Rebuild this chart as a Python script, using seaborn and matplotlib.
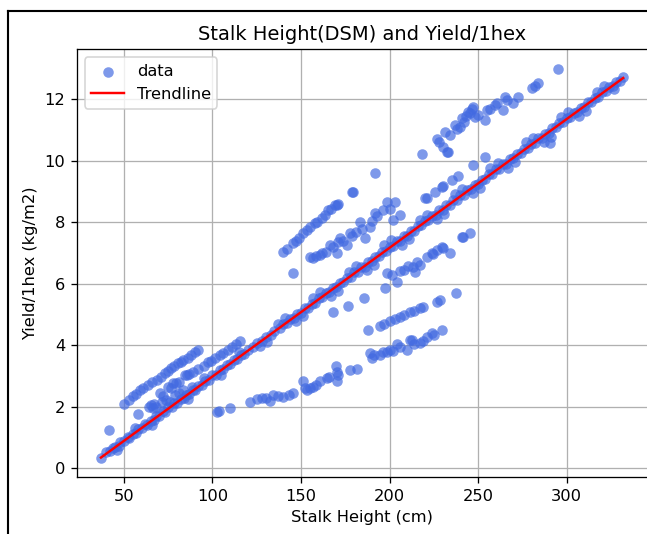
import numpy as np
import pandas as pd
import matplotlib
matplotlib.use("Agg")
import matplotlib.pyplot as plt
from matplotlib.lines import Line2D
import seaborn as sns

# ---------------- data ----------------
# main band along the trendline
main_x = [37, 40, 42, 44, 45, 47, 48, 50, 52, 53, 55, 57, 58, 60, 62, 63, 65, 67, 68, 70,
          72, 73, 75, 77, 78, 80, 82, 84, 85, 87, 89, 90, 92, 94, 96, 98, 100, 102, 104, 106,
          108, 110, 112, 114, 116, 118, 120, 123, 125, 128, 130, 133, 135, 138, 140, 142, 144,
          146, 148, 150, 152, 154, 156, 158, 160, 162, 164, 166, 168, 170, 172, 174, 176, 178,
          180, 182, 184, 186, 188, 190, 192, 194, 196, 198, 200, 202, 204, 206, 208, 210, 212,
          214, 216, 218, 220, 222, 224, 226, 228, 230, 232, 234, 236, 238, 240, 242, 244, 246,
          248, 250, 252, 254, 256, 258, 260, 262, 264, 266, 268, 270, 272, 274, 276, 278, 280,
          282, 284, 286, 288, 290, 292, 294, 296, 298, 300, 302, 304, 306, 308, 310, 312, 314,
          316, 318, 320, 322, 324, 326, 328, 330, 332]
main_y = [0.35, 0.52, 0.55, 0.66, 0.70, 0.74, 0.84, 0.88, 1.02, 0.98, 1.12, 1.16, 1.27, 1.30,
          1.44, 1.40, 1.55, 1.58, 1.70, 1.71, 1.86, 1.82, 1.98, 2.00, 2.11, 2.12, 2.27, 2.30,
          2.40, 2.41, 2.56, 2.55, 2.69, 2.72, 2.85, 2.88, 3.02, 3.05, 3.19, 3.22, 3.35, 3.38,
          3.52, 3.55, 3.69, 3.72, 3.86, 3.93, 4.06, 4.14, 4.27, 4.35, 4.48, 4.55, 4.69, 4.72,
          4.86, 4.89, 5.03, 5.06, 5.20, 5.22, 5.36, 5.39, 5.53, 5.56, 5.70, 5.72, 5.87, 5.89,
          6.04, 6.06, 6.20, 6.23, 6.37, 6.39, 6.54, 6.56, 6.71, 6.73, 6.88, 6.89, 7.05, 7.06,
          7.21, 7.23, 7.38, 7.40, 7.55, 7.56, 7.72, 7.73, 7.88, 7.90, 8.05, 8.07, 8.22, 8.23,
          8.39, 8.40, 8.55, 8.57, 8.72, 8.74, 8.89, 8.90, 9.06, 9.07, 9.22, 9.24, 9.39, 9.40,
          9.56, 9.57, 9.72, 9.74, 9.89, 9.91, 10.06, 10.08, 10.22, 10.25, 10.39, 10.41, 10.56,
          10.58, 10.73, 10.75, 10.89, 10.92, 11.06, 11.09, 11.23, 11.25, 11.40, 11.42, 11.56,
          11.59, 11.73, 11.76, 11.90, 11.92, 12.06, 12.09, 12.23, 12.26, 12.40, 12.43, 12.56,
          12.60, 12.72]

# scatter around the main band (band thickness)
spread_x = [46, 56, 66, 76, 86, 95, 105, 115, 127, 137, 147, 157, 167, 177, 187, 197, 207,
            217, 227, 237, 247, 257, 267, 277, 287, 297, 307, 317, 327, 131, 141, 151, 161,
            171, 181, 191, 201, 211, 221, 231, 241, 251, 261, 271, 281, 291, 301, 311, 321,
            290.7]
spread_y = [0.58, 1.30, 1.42, 2.15, 2.25, 2.93, 3.05, 3.78, 3.97, 4.70, 4.80, 5.55, 5.62,
            6.40, 6.45, 7.25, 7.28, 8.08, 8.10, 8.92, 8.95, 9.76, 9.78, 10.60, 10.62, 11.42,
            11.47, 12.25, 12.33, 4.12, 4.88, 4.95, 5.72, 5.78, 6.57, 6.60, 7.42, 7.45, 8.25,
            8.28, 9.08, 9.12, 9.93, 9.95, 10.76, 10.79, 11.58, 11.63, 12.42, 10.57]

# upper-left band A
bandA_x = [50, 53, 55.3, 57, 59, 61, 63.7, 66, 68.5, 71, 73.2, 74.8, 76.5, 78.5, 80.7, 82,
           83.5, 86, 88, 90.1, 91.8, 41.7]
bandA_y = [2.10, 2.22, 2.34, 2.42, 2.55, 2.62, 2.71, 2.80, 2.88, 2.98, 3.09, 3.16, 3.25, 3.33,
           3.41, 3.45, 3.52, 3.60, 3.70, 3.79, 3.86, 1.23]

# band A' just above the main band
bandA2_x = [58.1, 64, 65.5, 67, 70.3, 72, 75, 76.5, 77.9, 79.5, 81, 84.5, 85.5, 86.5, 89.2,
            92, 95, 97.6, 99, 101.4, 104, 106.1, 108.5, 110.8, 113, 115.5,
            66.6, 68, 71.3, 74, 78.8, 81, 83.5, 88.2]
bandA2_y = [1.76, 1.98, 2.06, 2.10, 2.46, 2.35, 2.65, 2.62, 2.78, 2.76, 2.82, 3.03, 3.05,
            3.06, 3.14, 3.22, 3.33, 3.47, 3.50, 3.60, 3.68, 3.74, 3.84, 3.95, 4.05, 4.15,
            1.97, 2.00, 2.17, 2.22, 2.38, 2.45, 2.55, 2.65]

# lowest band C
bandC_x = [102.4, 103.7, 109.9, 121.2, 125, 127.8, 130, 132.5, 134.4, 137, 140, 143, 145.6,
           151.3, 152, 153.2, 155, 157, 158.5, 160.7, 164.5, 166, 169.8, 170.2, 170.2, 171,
           177.7, 181.5, 189, 190, 191.5, 194.6, 196.5, 198.4, 200, 202, 204, 206, 209.7,
           211.6, 212.5, 214, 217.2, 219, 221, 223.8, 225, 229.8]
bandC_y = [1.84, 1.86, 1.97, 2.17, 2.25, 2.28, 2.30, 2.19, 2.38, 2.36, 2.33, 2.40, 2.44,
           2.84, 2.60, 2.55, 2.62, 2.65, 2.70, 2.84, 2.95, 2.98, 3.34, 3.14, 2.84, 3.05,
           3.20, 3.23, 3.74, 3.58, 3.70, 3.69, 3.79, 3.79, 3.85, 3.80, 4.03, 3.95, 3.85,
           4.17, 4.17, 4.05, 4.07, 4.15, 4.28, 4.39, 4.32, 4.50]

# band D
bandD_x = [188, 194.6, 197, 200.3, 203, 205.9, 208, 211.6, 214, 217.2, 219, 226.6, 228.5,
           237.6, 168.3, 176.7, 185.4]
bandD_y = [4.50, 4.63, 4.70, 4.80, 4.85, 4.93, 4.98, 5.09, 5.12, 5.20, 5.24, 5.42, 5.46,
           5.69, 5.07, 5.29, 5.55]

# band F
bandF_x = [197.5, 198.4, 201.2, 204, 205.9, 208, 210.6, 213, 214.4, 215.3, 217, 221, 223.8,
           224.7, 227, 229.5, 230, 234.1, 240.8, 241.7, 245.5, 145.3]
bandF_y = [5.87, 6.34, 6.29, 6.07, 6.42, 6.45, 6.58, 6.55, 6.39, 6.72, 6.60, 6.88, 6.99,
           6.97, 7.10, 7.21, 7.17, 6.99, 7.53, 7.53, 7.64, 6.34]

# band H / G
bandH_x = [155, 157, 158.5, 160.8, 162, 164, 166.4, 168, 170.2, 171, 172, 174, 175.8, 177.7,
           179, 181, 183.3, 184.5, 186.1, 188.9, 190, 191.8, 193, 196.5, 198.4, 200, 202.1,
           203.1, 206, 220, 221, 225.7, 229.5, 230.4, 235.1, 238.9, 247.4, 254]
bandH_y = [6.88, 6.83, 6.90, 6.93, 7.00, 7.05, 7.26, 7.20, 6.99, 7.35, 7.48, 7.40, 7.26,
           7.64, 7.55, 7.70, 8.02, 7.80, 7.48, 7.86, 8.05, 8.31, 8.20, 8.40, 8.67, 8.45,
           8.07, 8.67, 8.24, 8.78, 8.80, 9.00, 9.16, 9.18, 9.38, 9.51, 9.86, 10.13]

# band B
bandB_x = [140, 142, 145.6, 147, 149, 151.3, 153.2, 155, 157.9, 159, 161.6, 163.6, 165.4,
           167, 169.2, 170.2, 171, 178.6, 179.5, 191.8]
bandB_y = [7.04, 7.12, 7.32, 7.38, 7.50, 7.64, 7.75, 7.85, 7.97, 8.02, 8.15, 8.24, 8.40,
           8.45, 8.56, 8.56, 8.60, 9.00, 9.00, 9.61]

# upper-right band I
bandI_x = [218.2, 226.6, 228, 230.4, 231.4, 232.3, 233.2, 234, 237, 238, 239.8, 240.8, 242,
           243, 244.6, 245.5, 246.5, 247.4, 248.4, 250, 254, 254.9, 257, 259.6, 260.5,
           264.3, 265.3, 266.1, 270, 272.8, 280.3, 282, 284, 295.4]
bandI_y = [10.24, 10.70, 10.60, 10.46, 10.95, 10.30, 10.30, 10.85, 11.16, 11.05, 11.11,
           11.38, 11.25, 11.45, 11.60, 11.55, 11.70, 11.76, 11.43, 11.50, 11.33, 11.65,
           11.70, 11.81, 11.87, 11.65, 12.09, 11.98, 11.87, 12.09, 12.36, 12.45, 12.52, 12.99]

# trendline coefficients (yield = slope * height + intercept)
trend_slope = 0.04186
trend_intercept = -1.20

# ---------------- build table ----------------
xs = (main_x + spread_x + bandA_x + bandA2_x + bandC_x + bandD_x + bandF_x + bandH_x
      + bandB_x + bandI_x)
ys = (main_y + spread_y + bandA_y + bandA2_y + bandC_y + bandD_y + bandF_y + bandH_y
      + bandB_y + bandI_y)
df = pd.DataFrame({"height": xs, "yield": ys})

tx = np.array([min(xs), max(xs)])
trend = pd.DataFrame({"height": tx, "yield": trend_slope * tx + trend_intercept})

# ---------------- figure ----------------
W, H = 647, 534
DPI = 117
fig = plt.figure(figsize=(W / DPI, H / DPI), dpi=DPI)
ax = fig.add_axes([76.7 / W, (H - 477.3) / H, (648 - 76.7) / W, (477.3 - 49.3) / H])

sns.scatterplot(data=df, x="height", y="yield", ax=ax, color="royalblue", alpha=0.68,
                s=42, linewidth=0, label="data", zorder=2)
sns.lineplot(data=trend, x="height", y="yield", ax=ax, color="red", linewidth=1.5,
             label="Trendline", zorder=3)

ax.set_xlim(23.3, 346.0)
ax.set_ylim(-0.293, 13.63)
ax.set_xticks([50, 100, 150, 200, 250, 300])
ax.set_yticks([0, 2, 4, 6, 8, 10, 12])
ax.grid(True, color="#b0b0b0", linewidth=0.8)
ax.set_axisbelow(True)
ax.set_title("Stalk Height(DSM) and Yield/1hex", fontsize=12)
ax.set_xlabel("Stalk Height (cm)")
ax.set_ylabel("Yield/1hex (kg/m2)")
ax.legend(loc="upper left")

# screenshot frame lines
fig.add_artist(Line2D([8 / W, 8 / W], [0, 1 - 11 / H], color="black", linewidth=1.3,
                      transform=fig.transFigure))
fig.add_artist(Line2D([8 / W, 1], [1 - 11 / H, 1 - 11 / H], color="black", linewidth=1.3,
                      transform=fig.transFigure))

fig.savefig("out.png", dpi=DPI)
